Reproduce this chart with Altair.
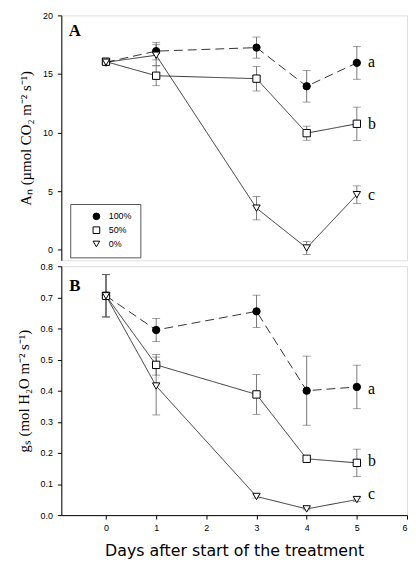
import altair as alt
import pandas as pd

days = [0, 1, 3, 4, 5]
series = ["100%", "50%", "0%"]

# Panel A: net photosynthesis (A_N)
an_100 = [16.0, 16.95, 17.25, 13.95, 15.95]
an_100_se = [0.2, 0.75, 0.9, 1.35, 1.4]
an_50 = [16.05, 14.85, 14.6, 9.95, 10.75]
an_50_se = [0.2, 0.85, 1.05, 0.6, 1.42]
an_0 = [16.0, 16.6, 3.55, 0.15, 4.7]
an_0_se = [0.2, 0.9, 1.0, 0.55, 0.75]

# Panel B: stomatal conductance (g_s)
gs_100 = [0.705, 0.595, 0.655, 0.400, 0.412]
gs_100_se = [0.068, 0.037, 0.052, 0.111, 0.07]
gs_50 = [0.705, 0.483, 0.388, 0.181, 0.168]
gs_50_se = [0.068, 0.033, 0.064, 0.005, 0.044]
gs_0 = [0.705, 0.415, 0.06, 0.02, 0.05]
gs_0_se = [0.068, 0.093, 0.005, 0.003, 0.006]

a_ticks = [0, 5, 10, 15, 20]
b_ticks = [0.0, 0.1, 0.2, 0.3, 0.4, 0.5, 0.6, 0.7, 0.8]
x_ticks = [0, 1, 2, 3, 4, 5, 6]

letters = ["a", "b", "c"]
letters_x = [5.22, 5.22, 5.22]
letters_a_y = [16.0, 10.7, 4.7]
letters_b_y = [0.406, 0.175, 0.068]
panel_labels = ["A", "B"]
panel_label_x = [-0.62, -0.62]
panel_label_y = [18.66, 0.737]


def make_df(vals, ses):
    rows = []
    for s, v, e in zip(series, vals, ses):
        for d, m, se in zip(days, v, e):
            rows.append({"day": d, "series": s, "dash": "d" + s, "value": m,
                         "lo": m - se, "hi": m + se})
    return pd.DataFrame(rows)


df_a = make_df([an_100, an_50, an_0], [an_100_se, an_50_se, an_0_se])
df_b = make_df([gs_100, gs_50, gs_0], [gs_100_se, gs_50_se, gs_0_se])
let_a = pd.DataFrame({"x": letters_x, "y": letters_a_y, "t": letters})
let_b = pd.DataFrame({"x": letters_x, "y": letters_b_y, "t": letters})
lab_a = pd.DataFrame({"x": [panel_label_x[0]], "y": [panel_label_y[0]], "t": [panel_labels[0]]})
lab_b = pd.DataFrame({"x": [panel_label_x[1]], "y": [panel_label_y[1]], "t": [panel_labels[1]]})

xscale = alt.Scale(domain=[-0.89, 6.0], nice=False, zero=False)
shape_scale = alt.Scale(domain=series, range=["circle", "square", "triangle-down"])
fill_scale = alt.Scale(domain=series, range=["black", "white", "white"])
stroke_scale = alt.Scale(domain=series, range=["black", "black", "black"])
dash_scale = alt.Scale(domain=["d" + s for s in series], range=[[9, 5], [1, 0], [1, 0]])

label_font = "Liberation Sans"

legend_def = alt.Legend(
    title=None, orient="none", legendX=9, legendY=191,
    strokeColor="#555555", fillColor="white", padding=8,
    labelFont=label_font, labelFontSize=9, labelColor="black",
    symbolSize=45, symbolStrokeWidth=1,
    symbolOffset=14, labelOffset=8, rowPadding=3,
)


def panel(df, lets, lab, yscale, yaxis, xaxis, width, height):
    x = alt.X("day:Q", scale=xscale, axis=xaxis)

    def yenc(field):
        return alt.Y(field, type="quantitative", scale=yscale, axis=yaxis)

    base = alt.Chart(df)
    lines = base.mark_line(color="black", strokeWidth=0.8).encode(
        x=x,
        y=yenc("value"),
        strokeDash=alt.StrokeDash("dash:N", scale=dash_scale, legend=None),
        detail="series:N",
    )
    rules = base.mark_rule(color="#555555", strokeWidth=0.8).encode(
        x=x, y=yenc("lo"), y2="hi:Q"
    )
    cap_lo = base.mark_tick(color="#555555", size=8, thickness=0.8, orient="horizontal").encode(
        x=x, y=yenc("lo")
    )
    cap_hi = base.mark_tick(color="#555555", size=8, thickness=0.8, orient="horizontal").encode(
        x=x, y=yenc("hi")
    )
    pts = base.mark_point(filled=True, size=55, strokeWidth=1, opacity=1).encode(
        x=x,
        y=yenc("value"),
        shape=alt.Shape("series:N", scale=shape_scale, legend=legend_def),
        fill=alt.Fill("series:N", scale=fill_scale, legend=legend_def),
        stroke=alt.Stroke("series:N", scale=stroke_scale, legend=legend_def),
    )
    txt = alt.Chart(lets).mark_text(
        font="Liberation Serif", fontSize=16, align="left", baseline="middle", color="black"
    ).encode(x=alt.X("x:Q", scale=xscale, axis=xaxis), y=yenc("y"), text="t:N")
    plab = alt.Chart(lab).mark_text(
        font="Liberation Serif", fontSize=17, fontWeight="bold", align="center",
        baseline="middle", color="black"
    ).encode(x=alt.X("x:Q", scale=xscale, axis=xaxis), y=yenc("y"), text="t:N")
    return alt.layer(lines, rules, cap_lo, cap_hi, pts, txt, plab).properties(
        width=width, height=height
    )


common_axis = dict(
    grid=False, tickSize=4, tickColor="black", domainColor="black",
    labelFont=label_font, labelFontSize=9, labelColor="black", labelPadding=5,
    labelOverlap=False,
    titleFont="Liberation Serif", titleFontSize=15, titleFontWeight="normal",
    titleColor="black", titlePadding=9,
)

yaxis_a = alt.Axis(values=a_ticks, tickCount=5, format="d",
                   title="Aₙ (µmol CO₂ m⁻² s⁻¹)", **common_axis)
yaxis_b = alt.Axis(values=b_ticks, tickCount=9, format=".1f",
                   title="gₛ (mol H₂O m⁻² s⁻¹)", **common_axis)
xaxis_b = alt.Axis(
    values=x_ticks, format="d", grid=False, tickSize=4, tickColor="black",
    domainColor="black", labelFont=label_font, labelFontSize=9, labelColor="black",
    labelPadding=5, labelOverlap=False,
    title="Days after start of the treatment", titleFont="DejaVu Sans", titleFontSize=16,
    titleFontWeight="normal", titleColor="black", titlePadding=10,
)

panel_a = panel(df_a, let_a, lab_a, alt.Scale(domain=[-0.9, 20], nice=False, zero=False),
                yaxis_a, None, 350, 248)
panel_b = panel(df_b, let_b, lab_b, alt.Scale(domain=[0, 0.8], nice=False, zero=False),
                yaxis_b, xaxis_b, 350, 252)

chart = alt.vconcat(panel_a, panel_b, spacing=0).properties(
    padding={"left": 7, "top": -1, "right": 0, "bottom": 0}
).configure_view(
    stroke="#404040", strokeWidth=1
).configure(background="white")

chart.save("out.html", embed_options={"renderer": "svg", "actions": False})
